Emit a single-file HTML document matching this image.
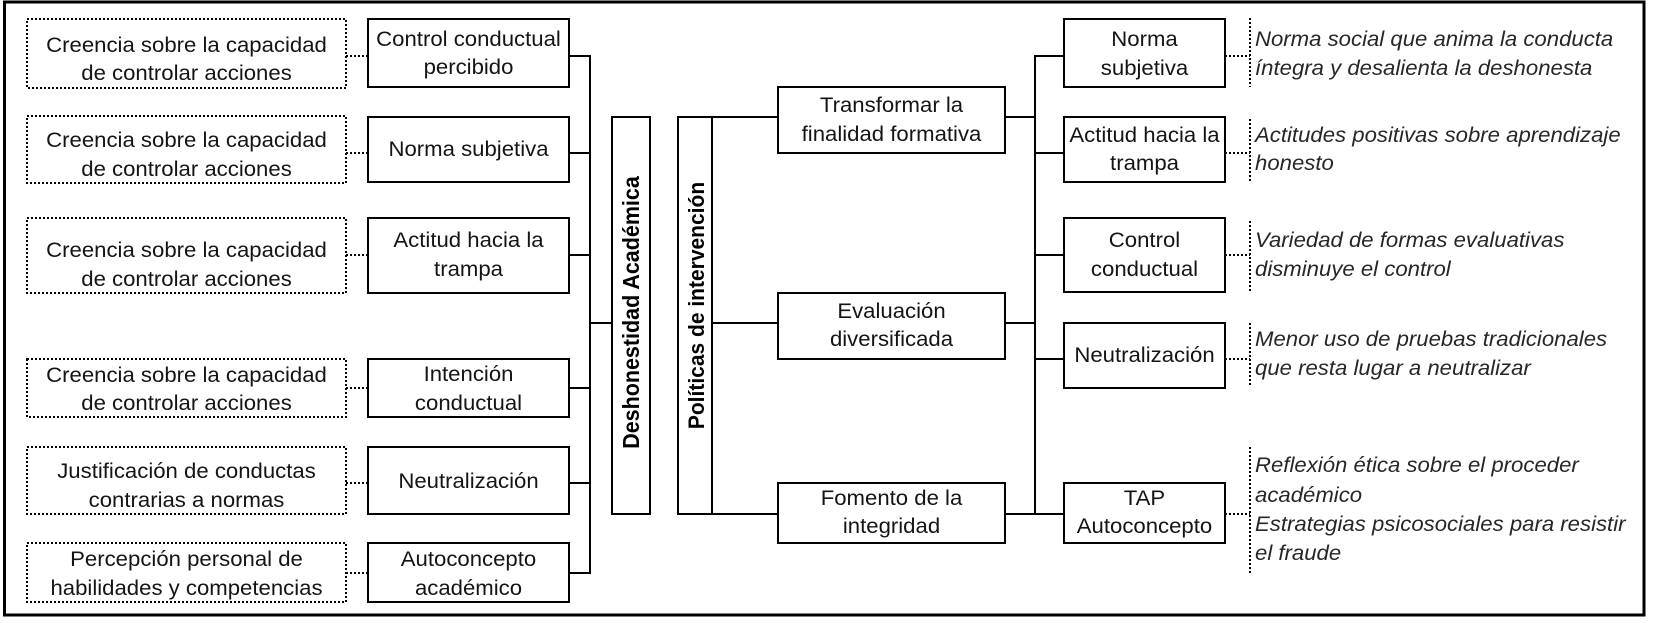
<!DOCTYPE html>
<html>
<head>
<meta charset="utf-8">
<style>
html,body{margin:0;padding:0;background:#fff;}
svg{display:block;}
text{font-family:"Liberation Sans",Arial,sans-serif;font-size:21px;fill:#141414;}
.c{text-anchor:middle;}
.i{font-style:italic;fill:#262626;}
.b{font-weight:bold;font-size:22px;text-anchor:middle;fill:#000;}
</style>
</head>
<body>
<svg width="1654" height="623" viewBox="0 0 1654 623" xmlns="http://www.w3.org/2000/svg">
<rect x="0" y="0" width="1654" height="623" fill="#fff"/>
<!-- outer border -->
<rect x="4.5" y="2" width="1639.5" height="613" fill="none" stroke="#000" stroke-width="3"/>

<!-- left dotted boxes -->
<g fill="none" stroke="#000" stroke-width="2" stroke-dasharray="2 2">
<rect x="27" y="19" width="319" height="69"/>
<rect x="27" y="116" width="319" height="67"/>
<rect x="27" y="218" width="319" height="75"/>
<rect x="27" y="359" width="319" height="58"/>
<rect x="27" y="447" width="319" height="67"/>
<rect x="27" y="543" width="319" height="59"/>
<!-- dotted connectors left -->
<line x1="346" y1="56" x2="368" y2="56"/>
<line x1="346" y1="153" x2="368" y2="153"/>
<line x1="346" y1="255" x2="368" y2="255"/>
<line x1="346" y1="388" x2="368" y2="388"/>
<line x1="346" y1="483" x2="368" y2="483"/>
<line x1="346" y1="573" x2="368" y2="573"/>
<!-- dotted right -->
<line x1="1225" y1="56" x2="1250" y2="56"/>
<line x1="1250" y1="18" x2="1250" y2="87"/>
<line x1="1225" y1="153" x2="1250" y2="153"/>
<line x1="1250" y1="119" x2="1250" y2="183"/>
<line x1="1225" y1="255" x2="1250" y2="255"/>
<line x1="1250" y1="221" x2="1250" y2="293"/>
<line x1="1225" y1="359" x2="1250" y2="359"/>
<line x1="1250" y1="323" x2="1250" y2="387"/>
<line x1="1225" y1="514" x2="1250" y2="514"/>
<line x1="1250" y1="447" x2="1250" y2="575"/>
</g>

<!-- solid boxes -->
<g fill="#fff" stroke="#000" stroke-width="2">
<rect x="368" y="19" width="201" height="68"/>
<rect x="368" y="117" width="201" height="65"/>
<rect x="368" y="218" width="201" height="75"/>
<rect x="368" y="359" width="201" height="58"/>
<rect x="368" y="447" width="201" height="67"/>
<rect x="368" y="543" width="201" height="59"/>

<rect x="612" y="117" width="38" height="397"/>
<rect x="678" y="117" width="34" height="397"/>

<rect x="778" y="87" width="227" height="66"/>
<rect x="778" y="293" width="227" height="66"/>
<rect x="778" y="483" width="227" height="60"/>

<rect x="1064" y="19" width="161" height="68"/>
<rect x="1064" y="117" width="161" height="65"/>
<rect x="1064" y="218" width="161" height="74"/>
<rect x="1064" y="323" width="161" height="65"/>
<rect x="1064" y="483" width="161" height="60"/>
</g>

<!-- solid connectors -->
<g stroke="#000" stroke-width="2" fill="none">
<line x1="590" y1="55" x2="590" y2="574"/>
<line x1="569" y1="56" x2="591" y2="56"/>
<line x1="569" y1="153" x2="590" y2="153"/>
<line x1="569" y1="255" x2="590" y2="255"/>
<line x1="569" y1="388" x2="590" y2="388"/>
<line x1="569" y1="483" x2="590" y2="483"/>
<line x1="569" y1="573" x2="591" y2="573"/>
<line x1="590" y1="323" x2="612" y2="323"/>

<line x1="712" y1="117" x2="778" y2="117"/>
<line x1="712" y1="323" x2="778" y2="323"/>
<line x1="712" y1="514" x2="778" y2="514"/>

<line x1="1035" y1="55" x2="1035" y2="515"/>
<line x1="1005" y1="117" x2="1035" y2="117"/>
<line x1="1005" y1="323" x2="1035" y2="323"/>
<line x1="1005" y1="514" x2="1036" y2="514"/>
<line x1="1034" y1="56" x2="1064" y2="56"/>
<line x1="1035" y1="153" x2="1064" y2="153"/>
<line x1="1035" y1="255" x2="1064" y2="255"/>
<line x1="1035" y1="359" x2="1064" y2="359"/>
<line x1="1035" y1="514" x2="1064" y2="514"/>
</g>

<!-- left dotted box text -->
<g class="c">
<text class="c" transform="translate(186.5,52) scale(1.055,1)">Creencia sobre la capacidad</text>
<text class="c" transform="translate(186.5,80) scale(1.055,1)">de controlar acciones</text>
<text class="c" transform="translate(186.5,147) scale(1.055,1)">Creencia sobre la capacidad</text>
<text class="c" transform="translate(186.5,176) scale(1.055,1)">de controlar acciones</text>
<text class="c" transform="translate(186.5,257) scale(1.055,1)">Creencia sobre la capacidad</text>
<text class="c" transform="translate(186.5,286) scale(1.055,1)">de controlar acciones</text>
<text class="c" transform="translate(186.5,382) scale(1.055,1)">Creencia sobre la capacidad</text>
<text class="c" transform="translate(186.5,410) scale(1.055,1)">de controlar acciones</text>
<text class="c" transform="translate(186.5,478) scale(1.055,1)">Justificación de conductas</text>
<text class="c" transform="translate(186.5,507) scale(1.055,1)">contrarias a normas</text>
<text class="c" transform="translate(186.5,566) scale(1.055,1)">Percepción personal de</text>
<text class="c" transform="translate(186.5,595) scale(1.055,1)">habilidades y competencias</text>

<!-- left solid box text -->
<text class="c" transform="translate(468.5,46) scale(1.055,1)">Control conductual</text>
<text class="c" transform="translate(468.5,74) scale(1.055,1)">percibido</text>
<text class="c" transform="translate(468.5,156) scale(1.055,1)">Norma subjetiva</text>
<text class="c" transform="translate(468.5,247) scale(1.055,1)">Actitud hacia la</text>
<text class="c" transform="translate(468.5,276) scale(1.055,1)">trampa</text>
<text class="c" transform="translate(468.5,381) scale(1.055,1)">Intención</text>
<text class="c" transform="translate(468.5,410) scale(1.055,1)">conductual</text>
<text class="c" transform="translate(468.5,488) scale(1.055,1)">Neutralización</text>
<text class="c" transform="translate(468.5,566) scale(1.055,1)">Autoconcepto</text>
<text class="c" transform="translate(468.5,595) scale(1.055,1)">académico</text>

<!-- middle boxes -->
<text class="c" transform="translate(891.5,112) scale(1.055,1)">Transformar la</text>
<text class="c" transform="translate(891.5,141) scale(1.055,1)">finalidad formativa</text>
<text class="c" transform="translate(891.5,318) scale(1.055,1)">Evaluación</text>
<text class="c" transform="translate(891.5,346) scale(1.055,1)">diversificada</text>
<text class="c" transform="translate(891.5,505) scale(1.055,1)">Fomento de la</text>
<text class="c" transform="translate(891.5,533) scale(1.055,1)">integridad</text>

<!-- right boxes -->
<text class="c" transform="translate(1144.5,46) scale(1.055,1)">Norma</text>
<text class="c" transform="translate(1144.5,75) scale(1.055,1)">subjetiva</text>
<text class="c" transform="translate(1144.5,142) scale(1.055,1)">Actitud hacia la</text>
<text class="c" transform="translate(1144.5,170) scale(1.055,1)">trampa</text>
<text class="c" transform="translate(1144.5,247) scale(1.055,1)">Control</text>
<text class="c" transform="translate(1144.5,276) scale(1.055,1)">conductual</text>
<text class="c" transform="translate(1144.5,362) scale(1.055,1)">Neutralización</text>
<text class="c" transform="translate(1144.5,505) scale(1.055,1)">TAP</text>
<text class="c" transform="translate(1144.5,533) scale(1.055,1)">Autoconcepto</text>
</g>

<!-- italic descriptions -->
<text class="i" transform="translate(1255,46) scale(1.055,1)">Norma social que anima la conducta</text>
<text class="i" transform="translate(1255,75) scale(1.055,1)">íntegra y desalienta la deshonesta</text>
<text class="i" transform="translate(1255,142) scale(1.055,1)">Actitudes positivas sobre aprendizaje</text>
<text class="i" transform="translate(1255,170) scale(1.055,1)">honesto</text>
<text class="i" transform="translate(1255,247) scale(1.055,1)">Variedad de formas evaluativas</text>
<text class="i" transform="translate(1255,276) scale(1.055,1)">disminuye el control</text>
<text class="i" transform="translate(1255,346) scale(1.055,1)">Menor uso de pruebas tradicionales</text>
<text class="i" transform="translate(1255,375) scale(1.055,1)">que resta lugar a neutralizar</text>
<text class="i" transform="translate(1255,472) scale(1.055,1)">Reflexión ética sobre el proceder</text>
<text class="i" transform="translate(1255,502) scale(1.055,1)">académico</text>
<text class="i" transform="translate(1255,531) scale(1.055,1)">Estrategias psicosociales para resistir</text>
<text class="i" transform="translate(1255,560) scale(1.055,1)">el fraude</text>

<!-- vertical titles -->
<text class="b" style="font-size:21.5px" transform="translate(639,312.5) rotate(-90) scale(1,1.055)">Deshonestidad Académica</text>
<text class="b" style="font-size:21px" transform="translate(704,305.5) rotate(-90) scale(1,1.055)">Políticas de intervención</text>
</svg>
</body>
</html>
